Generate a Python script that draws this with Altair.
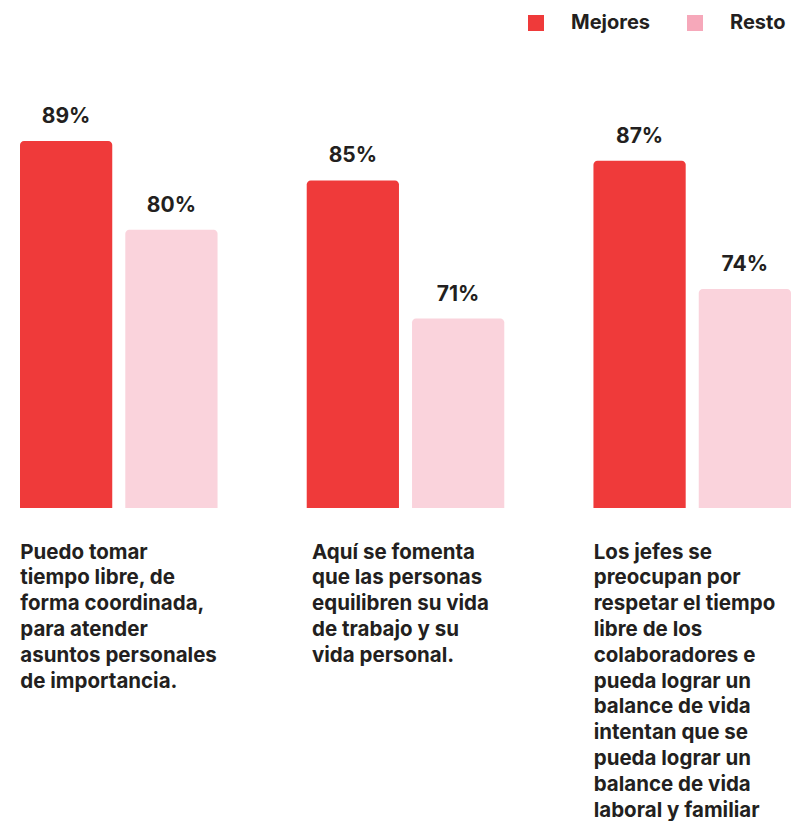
import altair as alt
import pandas as pd

categories = [
    "Puedo tomar|tiempo libre, de|forma coordinada,|para atender|asuntos personales|de importancia.",
    "Aquí se fomenta|que las personas|equilibren su vida|de trabajo y su|vida personal.",
    "Los jefes se|preocupan por|respetar el tiempo|libre de los|colaboradores e|pueda lograr un|balance de vida|intentan que se|pueda lograr un|balance de vida|laboral y familiar",
]
series = ["Mejores", "Resto"]
mejores = [89, 85, 87]
resto = [80, 71, 74]

rows = []
for c, m, r in zip(categories, mejores, resto):
    rows.append({"cat": c, "series": "Mejores", "value": m, "label": f"{m}%"})
    rows.append({"cat": c, "series": "Resto", "value": r, "label": f"{r}%"})
df = pd.DataFrame(rows)

YMIN, YMAX = 51.8, 97.2
FONT = "Inter"
TXT = "#231F20"

x = alt.X(
    "cat:N",
    sort=categories,
    scale=alt.Scale(paddingInner=0.311, paddingOuter=0),
    axis=alt.Axis(
        title=None,
        labelExpr="split(datum.value, '|')",
        labelAlign="left",
        labelBaseline="top",
        labelOffset={
            "condition": {"test": "indexof(datum.value, 'Aqu') == 0", "value": -93.5},
            "value": -98.5,
        },
        labelPadding=34,
        labelLineHeight=25.8,
        labelFontSize=20.5,
        labelFont=FONT,
        labelFontWeight="bold",
        labelColor=TXT,
        labelLimit=400,
        labelAngle=0,
        labelOverlap=False,
        labelFlush=False,
        domain=False,
        ticks=False,
        grid=False,
    ),
)
xo = alt.XOffset("series:N", sort=series, scale=alt.Scale(paddingInner=0.124, paddingOuter=0))
y = alt.Y("value:Q", scale=alt.Scale(domain=[YMIN, YMAX], zero=False, nice=False), axis=None)

bars = alt.Chart(df).mark_bar(cornerRadiusTopLeft=4, cornerRadiusTopRight=4).encode(
    x=x,
    xOffset=xo,
    y=y,
    y2=alt.datum(YMIN),
    color=alt.Color(
        "series:N",
        sort=series,
        scale=alt.Scale(domain=series, range=["#EF3A3A", "#F6A8BA"]),
        legend=alt.Legend(
            title=None,
            orient="none",
            legendX=506,
            legendY=-47,
            direction="horizontal",
            symbolType="square",
            symbolSize=256,
            symbolStrokeWidth=0,
            symbolOpacity=1,
            labelFont=FONT,
            labelFontSize=20,
            labelFontWeight="bold",
            labelColor=TXT,
            labelOffset=25,
            columnPadding=34,
            padding=0,
        ),
    ),
    fillOpacity=alt.condition(alt.datum.series == "Resto", alt.value(0.5), alt.value(1)),
)

labels = alt.Chart(df).mark_text(
    dy=-18, font=FONT, fontSize=21, fontWeight="bold", color=TXT, baseline="alphabetic"
).encode(x=x, xOffset=xo, y=y, text="label:N")

chart = (
    alt.layer(bars, labels)
    .properties(width=771, height=448, padding={"left": 11, "top": 5, "right": 0, "bottom": 0}, background="white")
    .configure_view(stroke=None)
)

chart.save("out.html", embed_options={"renderer": "svg", "actions": False})
